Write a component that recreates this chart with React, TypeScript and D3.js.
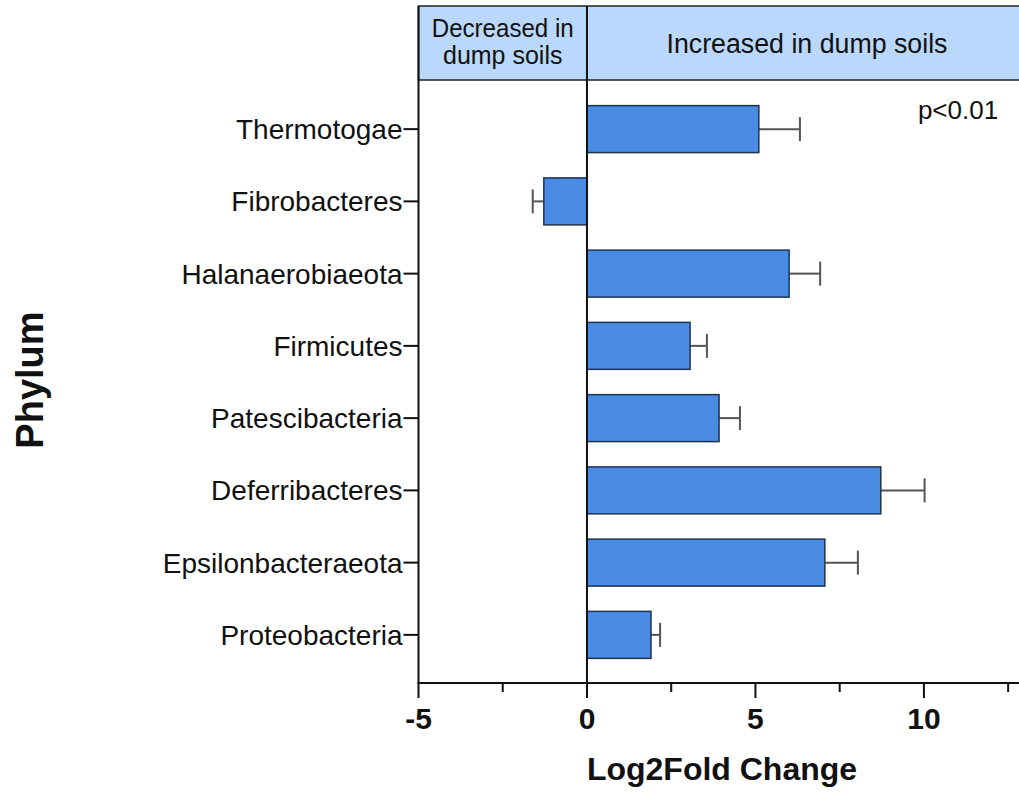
import React from "react";
import * as d3 from "d3";

const categories = [
  "Thermotogae",
  "Fibrobacteres",
  "Halanaerobiaeota",
  "Firmicutes",
  "Patescibacteria",
  "Deferribacteres",
  "Epsilonbacteraeota",
  "Proteobacteria",
];
const values = [5.1, -1.28, 6.0, 3.06, 3.92, 8.72, 7.06, 1.9];
const errors = [1.22, 0.33, 0.92, 0.5, 0.62, 1.3, 0.98, 0.27];
const majorTicks = [-5, 0, 5, 10];
const minorTicks = [-2.5, 2.5, 7.5, 12.5];

const W = 1019;
const H = 793;

export default function App() {
  const x = d3.scaleLinear().domain([-5, 13]).range([418.5, 1025]);
  const y = d3.scaleBand<string>().domain(categories).range([93, 671]).paddingInner(0.35).paddingOuter(0.175);
  const axisY = 683;
  const headerTop = 6;
  const headerBottom = 80;
  const x0 = x(0);
  const xl = x(-5);
  const bw = y.bandwidth();

  return (
    <svg
      width={W}
      height={H}
      style={{ position: "absolute", left: 0, top: 0, background: "#fff" }}
      fontFamily="Liberation Sans, Arial, Helvetica, sans-serif"
    >
      {/* header */}
      <rect x={xl} y={headerTop} width={W + 10 - xl} height={headerBottom - headerTop} fill="#b9d8fb" stroke="#222" strokeWidth={1.5} />
      <text x={(xl + x0) / 2} y={37} textAnchor="middle" fontSize={25} textLength={142} lengthAdjust="spacingAndGlyphs" fill="#111">Decreased in</text>
      <text x={(xl + x0) / 2} y={64} textAnchor="middle" fontSize={25} fill="#111">dump soils</text>
      <text x={807} y={53} textAnchor="middle" fontSize={27} textLength={281} lengthAdjust="spacingAndGlyphs" fill="#111">Increased in dump soils</text>

      {/* bars */}
      {categories.map((c, i) => {
        const v = values[i];
        const e = errors[i];
        const yc = (y(c) as number) + bw / 2;
        const xa = Math.min(x(0), x(v));
        const xb = Math.max(x(0), x(v));
        const xe = x(v + Math.sign(v) * e);
        return (
          <g key={c}>
            <line x1={x(v)} x2={xe} y1={yc} y2={yc} stroke="#555" strokeWidth={2} />
            <line x1={xe} x2={xe} y1={yc - 12} y2={yc + 12} stroke="#555" strokeWidth={2} />
            <rect x={xa} y={y(c)} width={xb - xa} height={bw} fill="#4a8be3" stroke="#1e3350" strokeWidth={1.5} />
          </g>
        );
      })}

      {/* zero line */}
      <line x1={x0} x2={x0} y1={headerTop} y2={axisY + 15} stroke="#111" strokeWidth={2} />
      {/* left axis */}
      <line x1={xl} x2={xl} y1={headerTop} y2={axisY} stroke="#111" strokeWidth={2} />
      {categories.map((c) => {
        const yc = (y(c) as number) + bw / 2;
        return (
          <g key={"t" + c}>
            <line x1={xl - 15} x2={xl} y1={yc} y2={yc} stroke="#111" strokeWidth={2} />
            <text x={xl - 16} y={yc + 10} textAnchor="end" fontSize={28} fill="#111">{c}</text>
          </g>
        );
      })}

      {/* x axis */}
      <line x1={xl - 1} x2={W + 10} y1={axisY} y2={axisY} stroke="#111" strokeWidth={2} />
      {majorTicks.map((t) => (
        <g key={"m" + t}>
          <line x1={x(t)} x2={x(t)} y1={axisY} y2={axisY + 15} stroke="#111" strokeWidth={2} />
          <text x={x(t)} y={729} textAnchor="middle" fontSize={30} fontWeight="bold" fill="#111">{t}</text>
        </g>
      ))}
      {minorTicks.map((t) => (
        <line key={"n" + t} x1={x(t)} x2={x(t)} y1={axisY} y2={axisY + 9} stroke="#111" strokeWidth={2} />
      ))}

      <text x={722} y={780} textAnchor="middle" fontSize={32} fontWeight="bold" fill="#111">Log2Fold Change</text>
      <text transform="translate(43,380) rotate(-90)" textAnchor="middle" fontSize={38} fontWeight="bold" fill="#111">Phylum</text>
      <text x={958} y={119} textAnchor="middle" fontSize={26} fill="#111">p&lt;0.01</text>
    </svg>
  );
}
